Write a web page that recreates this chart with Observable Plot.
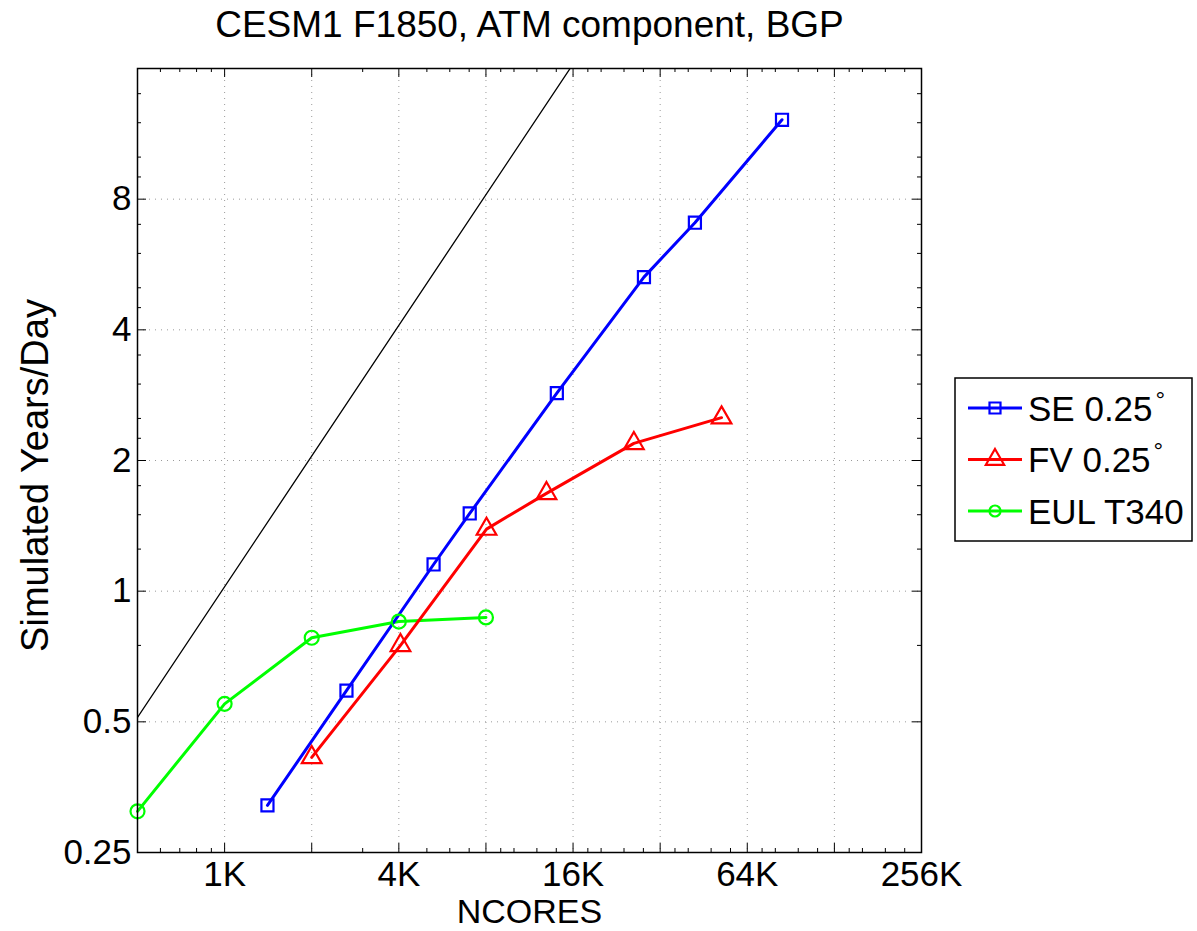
<!DOCTYPE html>
<html>
<head>
<meta charset="utf-8">
<script src="https://cdn.jsdelivr.net/npm/d3@7"></script>
<script src="https://cdn.jsdelivr.net/npm/@observablehq/plot@0.6"></script>
<style>
  html, body { margin: 0; padding: 0; background: #ffffff; }
  #chart { width: 1197px; height: 931px; }
</style>
</head>
<body>
<div id="chart"></div>
<script>
// ---------------- data ----------------
const titleText = "CESM1 F1850, ATM component, BGP";
const xLabelText = "NCORES";
const yLabelText = "Simulated Years/Day";

const seName = "SE 0.25";
const seCores = [1440, 2700, 5400, 7200, 14400, 28800, 43200, 86400];
const seYpd   = [0.321, 0.590, 1.152, 1.51, 2.86, 5.29, 7.06, 12.19];

const fvName = "FV 0.25";
const fvCores = [2048, 4150, 8230, 13260, 26580, 53400];
const fvYpd   = [0.414, 0.75, 1.39, 1.68, 2.19, 2.51];

const eulName = "EUL T340";
const eulCores = [512, 1024, 2048, 4096, 8192];
const eulYpd   = [0.311, 0.550, 0.781, 0.851, 0.870];

// ideal (linear) scaling reference line
const idealCores = [512, 16384];
const idealYpd   = [0.512, 16.384];

// axis ticks
const xDomain = [512, 262144];
const yDomain = [0.25, 16];
const xMajorTicks = [1024, 2048, 4096, 8192, 16384, 32768, 65536, 131072];
const xLabelTicks = [1024, 4096, 16384, 65536, 262144];
const xTickNames  = ["1K", "4K", "16K", "64K", "256K"];
const xMinorK = [0.6, 0.7, 0.8, 0.9, 3, 5, 6, 7, 9, 10, 12, 14, 18, 20, 24, 28,
                 36, 40, 48, 56, 72, 80, 96, 112, 144, 160, 192, 224];
const yMajorTicks = [0.5, 1, 2, 4, 8];
const yLabelTicks = [0.25, 0.5, 1, 2, 4, 8];
const yTickNames  = ["0.25", "0.5", "1", "2", "4", "8"];
const yMinorTicks = [0.75, 1.25, 1.5, 1.75, 2.25, 2.5, 3, 3.5, 4.5, 5, 6, 7, 9, 10, 12, 14];

// ---------------- build ----------------
const rows = (name, xs, ys) => xs.map((x, i) => ({ series: name, cores: x, ypd: ys[i] }));
const se = rows(seName, seCores, seYpd);
const fv = rows(fvName, fvCores, fvYpd);
const eul = rows(eulName, eulCores, eulYpd);
const ideal = rows("ideal", idealCores, idealYpd);
const xMinorTicks = xMinorK.map(k => k * 1024);
const xLabels = xLabelTicks.map((v, i) => ({ v, t: xTickNames[i] }));
const yLabels = yLabelTicks.map((v, i) => ({ v, t: yTickNames[i] }));

const W = 1197, H = 931;
const mL = 137, mR = 276, mT = 68, mB = 79;
const fw = W - mL - mR, fh = H - mT - mB;
const font = "'Liberation Sans', Arial, Helvetica, sans-serif";

const BLUE = "#0000ff", RED = "#ff0000", GREEN = "#00ff00";
const gridStyle = { stroke: "#9a9a9a", strokeWidth: 1, strokeDasharray: "1,5", strokeOpacity: 1 };
const tk = { stroke: "black", strokeWidth: 1, strokeOpacity: 1 };

const plot = Plot.plot({
  width: W, height: H,
  marginLeft: mL, marginRight: mR, marginTop: mT, marginBottom: mB,
  style: { fontFamily: font, fontSize: "35px", background: "white", color: "black", overflow: "visible" },
  x: { type: "log", base: 2, domain: xDomain, axis: null },
  y: { type: "log", base: 2, domain: yDomain, axis: null },
  marks: [
    // grid
    Plot.ruleX(xMajorTicks, { x: d => d, ...gridStyle }),
    Plot.ruleY(yMajorTicks, { y: d => d, ...gridStyle }),
    // ideal scaling
    Plot.line(ideal, { x: "cores", y: "ypd", stroke: "black", strokeWidth: 1.3, clip: true }),
    // series
    Plot.line(eul, { x: "cores", y: "ypd", stroke: GREEN, strokeWidth: 3 }),
    Plot.line(fv, { x: "cores", y: "ypd", stroke: RED, strokeWidth: 3 }),
    Plot.line(se, { x: "cores", y: "ypd", stroke: BLUE, strokeWidth: 3 }),
    Plot.dot(eul, { x: "cores", y: "ypd", symbol: "circle", r: 7, stroke: GREEN, strokeWidth: 2.2, fill: "none" }),
    Plot.dot(fv, { x: "cores", y: "ypd", symbol: "triangle", r: 7.3, stroke: RED, strokeWidth: 2.2, fill: "none" }),
    Plot.dot(se, { x: "cores", y: "ypd", symbol: "square", r: 6.8, stroke: BLUE, strokeWidth: 2.2, fill: "none" }),
    // inward ticks: bottom / top
    Plot.tickX(xMajorTicks, { x: d => d, insetTop: fh - 9, ...tk }),
    Plot.tickX(xMajorTicks, { x: d => d, insetBottom: fh - 9, ...tk }),
    Plot.tickX(xMinorTicks, { x: d => d, insetTop: fh - 4, ...tk }),
    Plot.tickX(xMinorTicks, { x: d => d, insetBottom: fh - 4, ...tk }),
    // inward ticks: left / right
    Plot.tickY(yMajorTicks, { y: d => d, insetRight: fw - 9, ...tk }),
    Plot.tickY(yMajorTicks, { y: d => d, insetLeft: fw - 9, ...tk }),
    Plot.tickY(yMinorTicks, { y: d => d, insetRight: fw - 4, ...tk }),
    Plot.tickY(yMinorTicks, { y: d => d, insetLeft: fw - 4, ...tk }),
    Plot.frame({ stroke: "black", strokeWidth: 1.5 }),
    // tick labels
    Plot.text(xLabels, { x: "v", text: "t", frameAnchor: "bottom", dy: 22, lineAnchor: "middle", textAnchor: "middle", fill: "black", fontSize: 35 }),
    Plot.text(yLabels, { y: "v", text: "t", frameAnchor: "left", dx: -6, textAnchor: "end", lineAnchor: "middle", fill: "black", fontSize: 35 }),
    // axis labels & title
    Plot.text([xLabelText], { text: d => d, frameAnchor: "bottom", dy: 60, lineAnchor: "middle", textAnchor: "middle", fill: "black", fontSize: 34 }),
    Plot.text([yLabelText], { text: d => d, frameAnchor: "left", dx: -102, dy: 15, rotate: -90, lineAnchor: "middle", textAnchor: "middle", fill: "black", fontSize: 38 }),
    Plot.text([titleText], { text: d => d, frameAnchor: "top", dy: -43, lineAnchor: "middle", textAnchor: "middle", fill: "black", fontSize: 37 })
  ]
});

document.getElementById("chart").appendChild(plot);

// ---------------- legend ----------------
const svg = d3.select(plot);
const legendItems = [
  { name: seName, color: BLUE, sym: d3.symbolSquare, r: 6.2, deg: true },
  { name: fvName, color: RED, sym: d3.symbolTriangle, r: 6.8, deg: true },
  { name: eulName, color: GREEN, sym: d3.symbolCircle, r: 5.5, deg: false }
];
const lg = svg.append("g").attr("font-family", font).attr("text-anchor", "start");
const lx = 955, ly = 378, lw = 237, lh = 163, rowH = 51.5;
lg.append("rect").attr("x", lx).attr("y", ly).attr("width", lw).attr("height", lh)
  .attr("fill", "white").attr("stroke", "black").attr("stroke-width", 1.5);
legendItems.forEach((it, i) => {
  const cy = ly + 30 + i * rowH;
  const g = lg.append("g");
  g.append("line").attr("x1", lx + 13).attr("x2", lx + 67).attr("y1", cy).attr("y2", cy)
    .attr("stroke", it.color).attr("stroke-width", 3);
  g.append("path").attr("d", d3.symbol(it.sym, Math.PI * it.r * it.r)())
    .attr("transform", `translate(${lx + 40},${cy})`)
    .attr("fill", "none").attr("stroke", it.color).attr("stroke-width", 2.2);
  const t = g.append("text").attr("x", lx + 73).attr("y", cy).attr("dy", "0.36em")
    .attr("text-anchor", "start")
    .attr("font-size", 35).attr("fill", "black").text(it.name);
  if (it.deg) {
    t.append("tspan").attr("dy", -13).attr("dx", 3).attr("font-size", 24).text("°");
  }
});
</script>
</body>
</html>
